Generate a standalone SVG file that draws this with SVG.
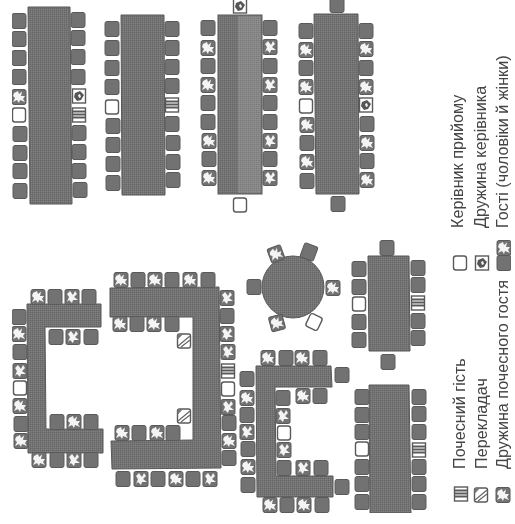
<svg xmlns="http://www.w3.org/2000/svg" xmlns:xlink="http://www.w3.org/1999/xlink" width="515" height="524" viewBox="0 0 515 524">
<style>
.t{fill:url(#d);stroke:#595959;stroke-width:1}
.l{font-family:"Liberation Sans",Arial,sans-serif;font-size:16.2px;fill:#444}
.s{fill:#727272;stroke:#5a5a5a;stroke-width:1}
.w{fill:#fff;stroke:#5a5a5a;stroke-width:1.4}
.m{fill:#f4f4f4}
.a{stroke:#666;stroke-width:1.200;fill:none}
</style>
<defs>
<pattern id="d" width="2" height="2" patternUnits="userSpaceOnUse"><rect width="2" height="2" fill="#737373"/><rect width="1" height="1" fill="#666"/><rect x="1" y="1" width="1" height="1" fill="#808080"/></pattern>
<filter id="b" x="0" y="0" width="1" height="1"><feGaussianBlur stdDeviation="0.5"/></filter>
<rect id="g" class="s" x="-7" y="-7.500" width="14" height="15" rx="2"/>
<g id="S"><rect class="s" x="-7" y="-7.500" width="14" height="15" rx="2"/><path class="m" d="M-5-4-1-6 0-3 3-5.500 2-1 6-1 4 2 6 5 1 3 0 6-2 3-6 5-4 1-6-1Z"/></g>
<g id="A"><rect class="s" x="-7" y="-7.500" width="14" height="15" rx="1.500"/><path class="m" d="M-2-6 1-2 3-6 5-3 2 0 6 3 1 3 0 6-3 3-5 5-3 0-5-3Z"/></g>
<rect id="W" class="w" x="-6.500" y="-7" width="13" height="14" rx="2.500"/>
<g id="L"><rect class="w" x="-6.500" y="-7" width="13" height="14"/><path d="M-6.500-3.500H6.500M-6.500-.5H6.500M-6.500 2.500H6.500" stroke="#5a5a5a" stroke-width="1.800"/></g>
<g id="R"><rect class="w" x="-6.500" y="-7" width="13" height="14"/><path d="M-4-3 1-5 5-1 2 4-2 5-5 1Z" fill="#555"/><path class="m" d="M-1-1 1-2 2 1 0 2Z"/></g>
<g id="H"><rect class="w" x="-6.500" y="-7" width="13" height="14" rx="2"/><path class="a" d="M-6 5 6-5M-3 6 6-1"/><path d="M-6.500-7-1-7-6.500-1Z" fill="#777"/></g>
</defs>
<rect width="515" height="524" fill="#fff"/>
<g filter="url(#b)">
<g id="table-1">
<polygon class="t" points="28,7 70,7 72,204 30,204"/>
<use href="#g" x="19" y="21"/><use href="#g" x="19" y="39"/><use href="#g" x="19" y="58"/><use href="#g" x="19" y="77"/><use href="#S" x="19" y="97"/><use href="#W" x="19" y="115"/><use href="#g" x="20" y="134"/><use href="#g" x="20" y="153"/><use href="#g" x="20" y="171"/><use href="#g" x="20" y="191"/>
<use href="#g" x="78" y="20"/><use href="#g" x="78" y="38"/><use href="#g" x="78" y="57"/><use href="#g" x="78" y="77"/><use href="#R" x="79" y="96"/><use href="#L" x="79" y="115"/><use href="#g" x="79" y="133"/><use href="#g" x="79" y="152"/><use href="#g" x="79" y="171"/><use href="#g" x="80" y="190"/>
</g>
<g id="table-2">
<polygon class="t" points="121,15 164,15 165,195 122,195"/>
<use href="#g" x="112" y="29"/><use href="#g" x="112" y="48"/><use href="#g" x="112" y="68"/><use href="#g" x="112" y="87"/><use href="#W" x="112" y="107"/><use href="#g" x="113" y="126"/><use href="#g" x="113" y="145"/><use href="#g" x="113" y="164"/><use href="#g" x="113" y="183"/>
<use href="#g" x="172" y="29"/><use href="#g" x="172" y="48"/><use href="#g" x="172" y="67"/><use href="#g" x="172" y="86"/><use href="#L" x="172" y="105"/><use href="#g" x="172" y="124"/><use href="#g" x="173" y="143"/><use href="#g" x="173" y="162"/><use href="#g" x="173" y="180"/>
</g>
<g id="table-3">
<rect class="t" x="218" y="15" width="44" height="179"/>
<rect x="238" y="16" width="23" height="177" fill="#fff" opacity=".14"/>
<use href="#R" x="240" y="6"/><use href="#W" x="240" y="205"/>
<use href="#g" x="208" y="28"/><use href="#S" x="208" y="48"/><use href="#g" x="208" y="66"/><use href="#S" x="208" y="85"/><use href="#g" x="208" y="103"/><use href="#g" x="208" y="122"/><use href="#S" x="209" y="141"/><use href="#g" x="209" y="159"/><use href="#S" x="209" y="178"/>
<use href="#g" x="270" y="28"/><use href="#A" x="270" y="47"/><use href="#g" x="270" y="66"/><use href="#A" x="270" y="85"/><use href="#g" x="270" y="103"/><use href="#g" x="270" y="122"/><use href="#A" x="270" y="141"/><use href="#g" x="270" y="159"/><use href="#A" x="270" y="178"/>
</g>
<g id="table-4">
<polygon class="t" points="314,14 358,14 359,194 316,194"/>
<use href="#g" x="337" y="5"/><use href="#g" x="338" y="204"/>
<use href="#g" x="306" y="31"/><use href="#S" x="306" y="50"/><use href="#g" x="306" y="68"/><use href="#S" x="306" y="87"/><use href="#W" x="306" y="106"/><use href="#S" x="307" y="125"/><use href="#g" x="307" y="143"/><use href="#S" x="307" y="162"/><use href="#g" x="307" y="181"/>
<use href="#g" x="366" y="31"/><use href="#S" x="366" y="49"/><use href="#g" x="366" y="68"/><use href="#S" x="366" y="87"/><use href="#R" x="366" y="105"/><use href="#g" x="367" y="124"/><use href="#S" x="367" y="143"/><use href="#g" x="367" y="161"/><use href="#S" x="367" y="180"/>
</g>
<g id="bracket-1">
<polygon class="t" points="27,304 101,304 101,327 45,327 46,429 103,429 103,453 28,453"/>
<use href="#S" x="38" y="297"/><use href="#g" x="55" y="297"/><use href="#A" x="72" y="297"/><use href="#g" x="89" y="297"/>
<use href="#g" x="19" y="317"/><use href="#S" x="19" y="334"/><use href="#g" x="20" y="352"/><use href="#A" x="20" y="371"/><use href="#W" x="20" y="388"/><use href="#S" x="20" y="406"/><use href="#g" x="21" y="424"/><use href="#S" x="21" y="441"/>
<use href="#g" x="56" y="337"/><use href="#A" x="73" y="337"/><use href="#g" x="91" y="337"/>
<use href="#g" x="57" y="422"/><use href="#S" x="74" y="422"/><use href="#g" x="91" y="422"/>
<use href="#S" x="39" y="460"/><use href="#g" x="57" y="460"/><use href="#A" x="74" y="460"/><use href="#g" x="91" y="460"/>
</g>
<g id="bracket-2">
<polygon class="t" points="110,288 219,287 221,468 112,469 111,441 193,440 193,317 110,317"/>
<use href="#S" x="121" y="280"/><use href="#g" x="138" y="280"/><use href="#S" x="155" y="280"/><use href="#g" x="172" y="280"/><use href="#S" x="190" y="280"/><use href="#g" x="208" y="280"/>
<use href="#S" x="120" y="324"/><use href="#g" x="137" y="324"/><use href="#S" x="154" y="324"/><use href="#g" x="172" y="324"/>
<use href="#H" x="184" y="341"/><use href="#H" x="184" y="416"/>
<use href="#S" x="122" y="433"/><use href="#g" x="139" y="433"/><use href="#S" x="157" y="433"/><use href="#g" x="173" y="433"/>
<use href="#A" x="227" y="298"/><use href="#g" x="227" y="316"/><use href="#A" x="227" y="334"/><use href="#A" x="228" y="352"/><use href="#L" x="228" y="371"/><use href="#W" x="228" y="389"/><use href="#A" x="228" y="407"/><use href="#g" x="229" y="423"/><use href="#S" x="229" y="441"/><use href="#g" x="229" y="458"/>
<use href="#g" x="123" y="479"/><use href="#A" x="141" y="479"/><use href="#g" x="158" y="479"/><use href="#S" x="176" y="479"/><use href="#g" x="193" y="479"/><use href="#A" x="210" y="479"/>
</g>
<g id="round-table">
<circle cx="293" cy="287" r="31" class="t"/>
<use href="#g" x="254" y="287"/>
<use href="#S" transform="translate(276 254) rotate(-20)"/>
<use href="#g" transform="translate(309 252) rotate(20)"/>
<use href="#S" x="333" y="288"/>
<use href="#W" transform="translate(314 322) rotate(25)"/>
<use href="#S" transform="translate(277 323) rotate(-15)"/>
</g>
<g id="table-5">
<polygon class="t" points="368,256 409,256 410,351 369,351"/>
<use href="#g" x="387" y="248"/><use href="#g" x="388" y="362"/>
<use href="#g" x="359" y="269"/><use href="#g" x="359" y="287"/><use href="#W" x="359" y="304"/><use href="#g" x="359" y="322"/><use href="#g" x="359" y="340"/>
<use href="#g" x="418" y="268"/><use href="#g" x="418" y="285"/><use href="#L" x="418" y="303"/><use href="#g" x="418" y="321"/><use href="#g" x="418" y="338"/>
</g>
<g id="bracket-3">
<polygon class="t" points="256,366 331,366 332,387 275,387 276,476 333,476 333,497 257,497"/>
<use href="#S" x="268" y="358"/><use href="#g" x="286" y="358"/><use href="#S" x="302" y="358"/><use href="#g" x="320" y="358"/>
<use href="#g" x="342" y="375"/><use href="#g" x="342" y="487"/>
<use href="#g" x="247" y="379"/><use href="#S" x="247" y="398"/><use href="#g" x="247" y="415"/><use href="#A" x="247" y="432"/><use href="#g" x="248" y="449"/><use href="#S" x="248" y="467"/><use href="#g" x="248" y="485"/>
<use href="#g" x="283" y="398"/><use href="#A" x="283" y="416"/><use href="#W" x="284" y="433"/><use href="#A" x="284" y="450"/><use href="#g" x="284" y="468"/>
<use href="#S" x="303" y="396"/><use href="#g" x="320" y="396"/>
<use href="#A" x="303" y="468"/><use href="#g" x="321" y="468"/>
<use href="#S" x="270" y="505"/><use href="#g" x="287" y="505"/><use href="#S" x="304" y="505"/><use href="#g" x="322" y="505"/>
</g>
<g id="table-6">
<polygon class="t" points="369,385 409,385 411,513 370,513"/>
<use href="#g" x="362" y="397"/><use href="#g" x="362" y="415"/><use href="#g" x="362" y="432"/><use href="#W" x="362" y="449"/><use href="#g" x="362" y="467"/><use href="#g" x="362" y="484"/><use href="#g" x="362" y="502"/>
<use href="#g" x="419" y="397"/><use href="#g" x="419" y="414"/><use href="#g" x="419" y="432"/><use href="#L" x="419" y="450"/><use href="#g" x="419" y="467"/><use href="#g" x="419" y="484"/><use href="#g" x="419" y="502"/>
</g>
<g id="legend">
<use href="#W" x="460" y="263"/><use href="#R" x="482" y="263"/><use href="#g" x="504" y="263"/><use href="#S" x="504" y="248"/>
<use href="#L" x="461" y="494"/><use href="#H" x="481" y="495"/><use href="#S" x="503" y="495"/>
<text class="l" transform="translate(463 228) rotate(-90)">Керівник прийому</text>
<text class="l" transform="translate(486 228) rotate(-90)">Дружина керівника</text>
<text class="l" transform="translate(508 228) rotate(-90)">Гості (чоловіки й жінки)</text>
<text class="l" transform="translate(465 469) rotate(-90)">Почесний гість</text>
<text class="l" transform="translate(487 469) rotate(-90)">Перекладач</text>
<text class="l" transform="translate(508 469) rotate(-90)">Дружина почесного гостя</text>
</g>
</g>
</svg>
